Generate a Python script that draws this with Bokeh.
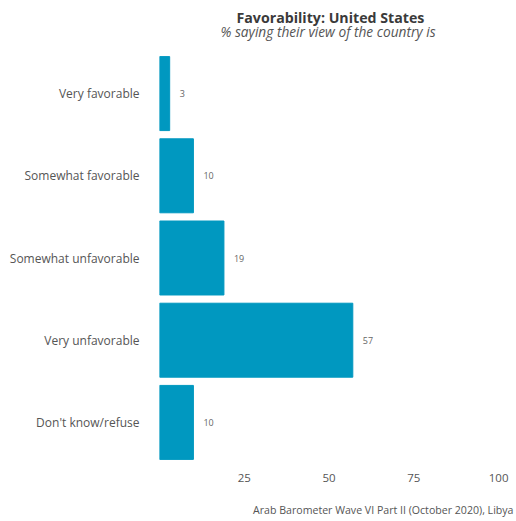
from bokeh.plotting import figure
from bokeh.models import ColumnDataSource, FixedTicker, Title
from bokeh.embed import file_html
from bokeh.resources import INLINE
from bokeh.core.properties import value

categories = ["Very favorable", "Somewhat favorable", "Somewhat unfavorable",
              "Very unfavorable", "Don't know/refuse"]
values = [3, 10, 19, 57, 10]
x_ticks = [25, 50, 75, 100]

title_text = "Favorability: United States"
subtitle_text = "% saying their view of the country is"
caption_text = "Arab Barometer Wave VI Part II (October 2020), Libya"

FONT = "Open Sans"
BAR = "#0098C0"

src = ColumnDataSource(dict(cat=categories, val=values,
                            lbl=[str(v) for v in values]))

p = figure(width=516, height=521, y_range=list(reversed(categories)),
           x_range=(0, 103.5), output_backend="svg", toolbar_location=None,
           min_border_left=159, min_border_right=6, min_border_top=52,
           min_border_bottom=58)

p.hbar(y="cat", right="val", left=0, height=0.9, source=src,
       color=BAR, line_color=BAR)
p.text(x="val", y="cat", text="lbl", source=src, x_offset=10,
       text_baseline="middle", text_align="left", text_font_size="9px",
       text_color="#666666", text_font=value(FONT))

p.outline_line_color = None
p.xgrid.grid_line_color = None
p.ygrid.grid_line_color = None
p.background_fill_color = "white"
p.border_fill_color = "white"

for ax in (p.xaxis[0], p.yaxis[0]):
    ax.axis_line_color = None
    ax.major_tick_line_color = None
    ax.minor_tick_line_color = None
    ax.major_label_text_font = FONT
    ax.major_label_text_color = "#555555"
    ax.major_label_text_font_size = "11.5px"

p.yaxis.major_label_text_font_size = "12px"
p.xaxis.ticker = FixedTicker(ticks=x_ticks)
p.xaxis.major_label_standoff = 4
p.yaxis.major_label_standoff = 14

# above: spacer, subtitle, title (added from the frame outward)
p.add_layout(Title(text=" ", text_font_size="1px", standoff=9), "above")
p.add_layout(Title(text=subtitle_text, align="left", offset=61,
                   text_font=FONT, text_font_style="italic",
                   text_font_size="13.7px", text_color="#555555",
                   standoff=0), "above")
p.add_layout(Title(text=title_text, align="left", offset=77, text_font=FONT,
                   text_font_style="bold", text_font_size="14.2px",
                   text_color="#3a3a3a", standoff=-15), "above")

# below: spacer, caption
p.add_layout(Title(text=" ", text_font_size="1px", standoff=13), "below")
p.add_layout(Title(text=caption_text, align="right", offset=-3,
                   text_font=FONT, text_font_style="normal",
                   text_font_size="10.6px", text_color="#555555",
                   standoff=0), "below")

open("out.html", "w").write(file_html(p, INLINE))
